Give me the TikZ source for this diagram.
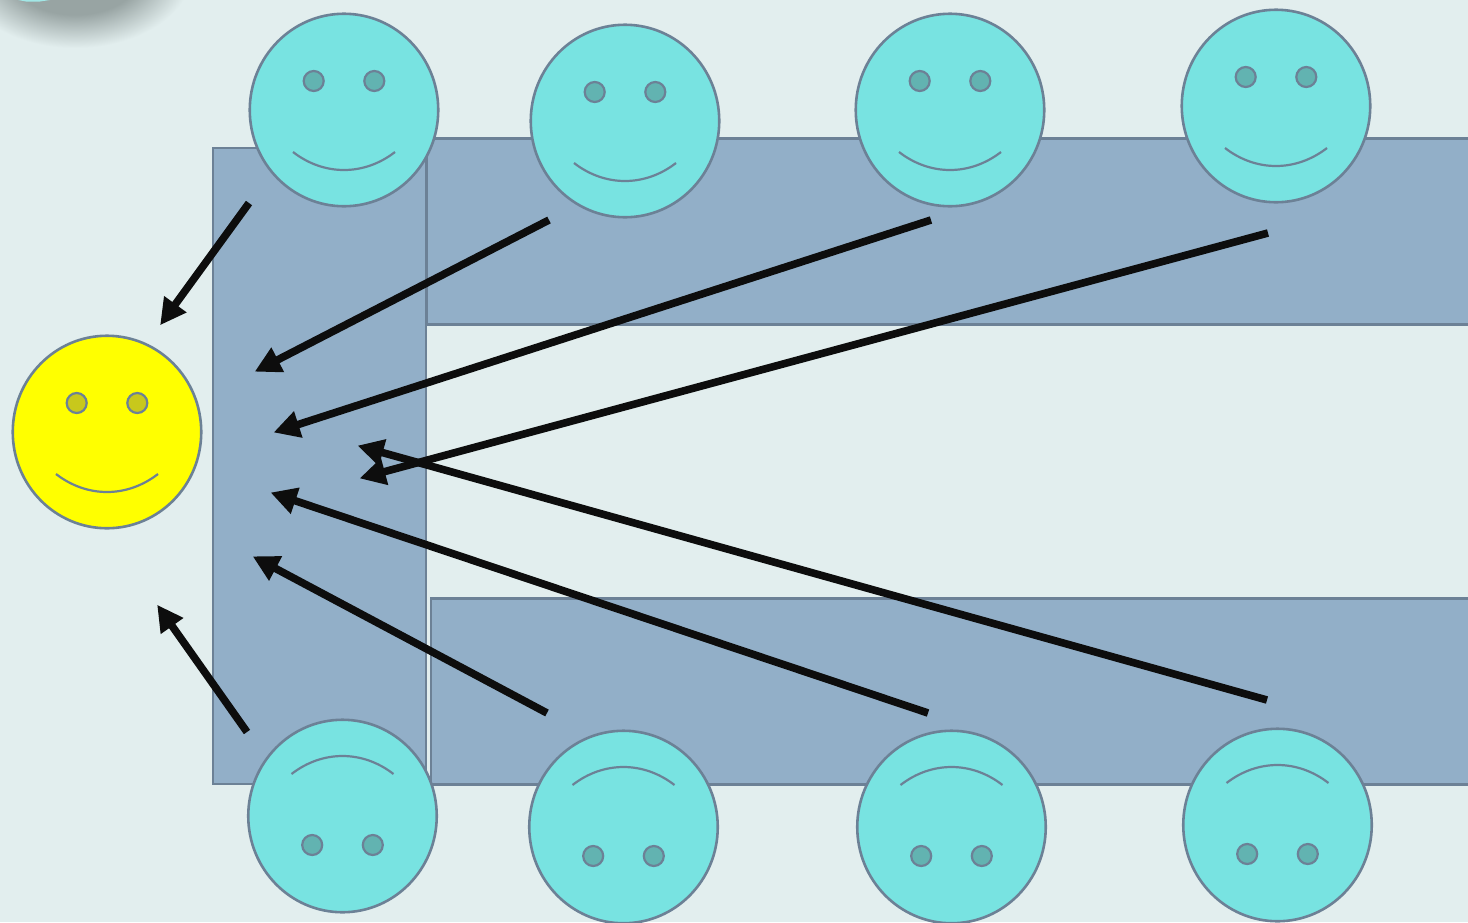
\documentclass[tikz,border=0pt]{standalone}
\usetikzlibrary{arrows.meta,shapes.geometric}
\definecolor{bgc}{HTML}{E2EEEE}
\definecolor{bandc}{HTML}{92AFC8}
\definecolor{edgec}{HTML}{6C8196}
\definecolor{facec}{HTML}{78E3E1}
\definecolor{eyec}{HTML}{62B3B1}
\definecolor{yeyec}{HTML}{C8C81C}
\definecolor{yfacec}{RGB}{255,255,0}
\definecolor{arrc}{HTML}{0D0D0D}
\definecolor{shadc}{HTML}{98A4A3}
\tikzset{
 band/.style={draw=edgec,fill=bandc,line width=2.2pt,rectangle,inner sep=0pt},
 facebody/.style={ellipse,draw=edgec,line width=2.6pt,minimum width=188.5pt,minimum height=192.5pt,inner sep=0pt},
 eyeball/.style={circle,draw=edgec,line width=2.2pt,minimum size=20pt,inner sep=0pt},
 mouth/.style={draw=edgec,line width=2.2pt},
 flow/.style={draw=arrc,line width=7.6pt,-{Triangle[length=26pt,width=26pt]},shorten >=-1.5pt}
}
\pgfdeclareradialshading{shadblob}{\pgfpoint{0bp}{0bp}}{
 color(0bp)=(shadc); color(12bp)=(shadc); color(16bp)=(shadc!55!bgc); color(21bp)=(bgc); color(50bp)=(bgc)}
% name, x, y, face fill, eye fill, flip (1 smile up / -1 upside down)
\newcommand{\smiley}[6]{%
 \node[facebody,fill=#4] (#1) at (#2,#3) {};
 \node[eyeball,fill=#5] (#1L) at (#2-30.3,#3-29*#6) {};
 \node[eyeball,fill=#5] (#1R) at (#2+30.3,#3-29*#6) {};
 \coordinate (#1a) at (#2-51,#3+42*#6);
 \coordinate (#1b) at (#2+51,#3+42*#6);
 \draw[mouth] (#1a) .. controls (#2-20,#3+66*#6) and (#2+20,#3+66*#6) .. (#1b);
}
\begin{document}
\begin{tikzpicture}[x=1pt,y=-1pt]
\useasboundingbox (0,0) rectangle (1468,922);
\fill[bgc] (0,0) rectangle (1468,922);
\begin{scope}
 \clip (0,0) rectangle (1468,922);
 \path[shading=shadblob] (75,-30) ellipse [x radius=140,y radius=93];
 \fill[facec!60!bgc] (18,0) -- (50,0) -- (40,1.5) -- (26,1.5) -- cycle;
\end{scope}
% bands
\node[band,minimum width=213pt,minimum height=636pt] (leftband) at (319.5,466) {};
\node[band,minimum width=1042pt,minimum height=186pt,anchor=north west] (topband) at (425.6,137.4) {};
\node[band,minimum width=1038pt,minimum height=186pt,anchor=north west] (botband) at (429.6,597.4) {};
% faces
\smiley{t1}{344}{110}{facec}{eyec}{1}
\smiley{t2}{625}{121}{facec}{eyec}{1}
\smiley{t3}{950}{110}{facec}{eyec}{1}
\smiley{t4}{1276}{106}{facec}{eyec}{1}
\smiley{b1}{342.5}{816}{facec}{eyec}{-1}
\smiley{b2}{623.5}{827}{facec}{eyec}{-1}
\smiley{b3}{951.5}{827}{facec}{eyec}{-1}
\smiley{b4}{1277.5}{825}{facec}{eyec}{-1}
\smiley{y}{107}{432}{yfacec}{yeyec}{1}
% arrows
\coordinate (s1) at (249,203);  \coordinate (e1) at (161,324);
\coordinate (s2) at (549,220);  \coordinate (e2) at (256,371);
\coordinate (s3) at (931,220);  \coordinate (e3) at (275,432);
\coordinate (s4) at (1268,233); \coordinate (e4) at (361,478);
\coordinate (s5) at (1267,700); \coordinate (e5) at (359,446);
\coordinate (s6) at (928,713);  \coordinate (e6) at (272,493);
\coordinate (s7) at (547,713);  \coordinate (e7) at (254,557);
\coordinate (s8) at (247,732);  \coordinate (e8) at (158,606);
\foreach \i in {1,...,8} \draw[flow] (s\i) -- (e\i);
\end{tikzpicture}
\end{document}
